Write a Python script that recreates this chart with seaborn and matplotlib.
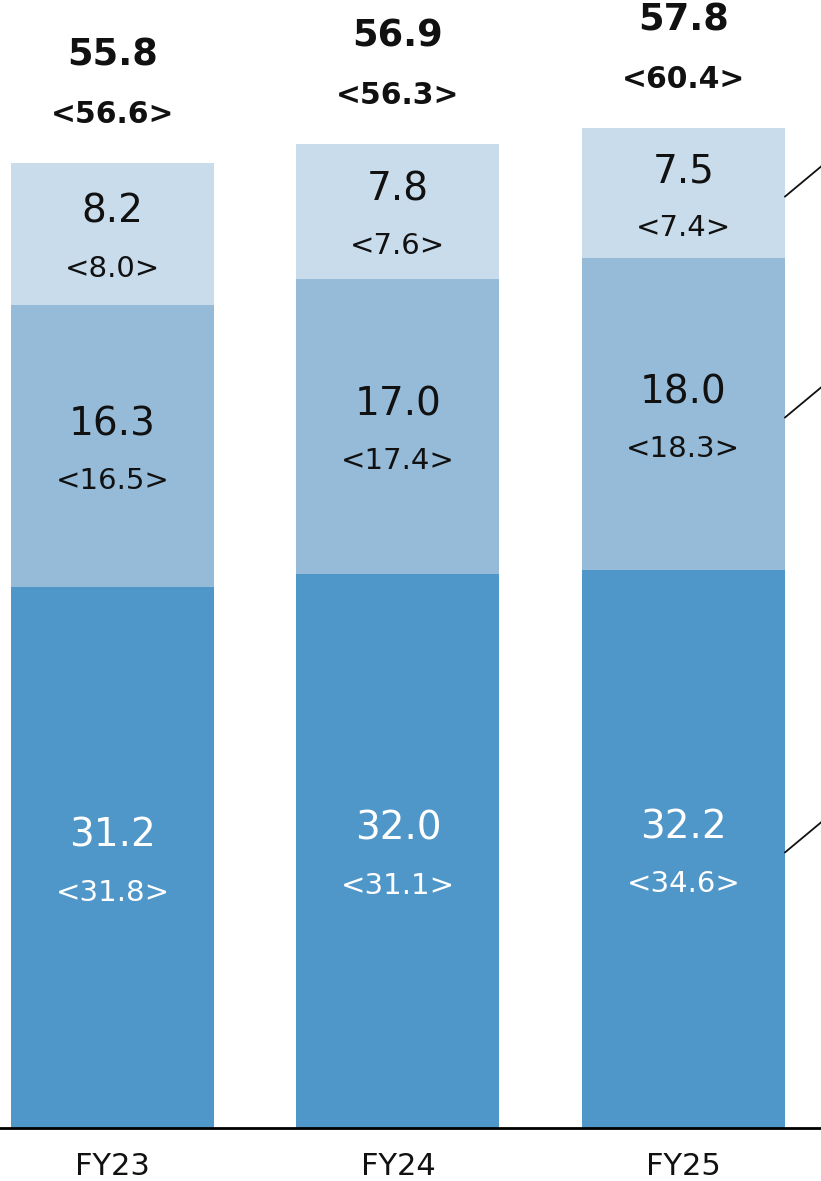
import matplotlib
matplotlib.use("Agg")
import matplotlib.pyplot as plt
import seaborn as sns
import pandas as pd

# Fiscal years and segment values (actual / <plan>)
years = ["FY23", "FY24", "FY25"]
seg_bottom = [31.2, 32.0, 32.2]
seg_middle = [16.3, 17.0, 18.0]
seg_top = [8.2, 7.8, 7.5]
plan_bottom = [31.8, 31.1, 34.6]
plan_middle = [16.5, 17.4, 18.3]
plan_top = [8.0, 7.6, 7.4]
totals = [55.8, 56.9, 57.8]
plan_totals = [56.6, 56.3, 60.4]

c_bottom = "#4F96C9"
c_middle = "#95BBD9"
c_top = "#C8DCEC"

sns.set_theme(style="white")
plt.rcParams["font.family"] = ["DejaVu Sans"]

fig = plt.figure(figsize=(8.21, 11.81), dpi=100)
ax = fig.add_axes([0, 1 - 1128 / 1181, 1, 1128 / 1181])

cum_mid = [b + m for b, m in zip(seg_bottom, seg_middle)]
cum_top = [c + t for c, t in zip(cum_mid, seg_top)]
df = pd.DataFrame({"year": years, "bottom": seg_bottom, "mid": cum_mid, "top": cum_top})

bar_w = 0.711
# stacked bars drawn as overlaid cumulative heights
for col, color in [("top", c_top), ("mid", c_middle), ("bottom", c_bottom)]:
    sns.barplot(data=df, x="year", y=col, color=color, width=bar_w,
                saturation=1, ax=ax, linewidth=0, edgecolor="none")

ax.set_xlim(-0.394, 2.482)
ax.set_ylim(0, 65.1)
ax.set_yticks([])
ax.set_xlabel("")
ax.set_ylabel("")
for s in ["top", "left", "right"]:
    ax.spines[s].set_visible(False)
ax.spines["bottom"].set_color("black")
ax.spines["bottom"].set_linewidth(2.0)
ax.tick_params(axis="x", length=0, labelsize=22, pad=17, colors="#111111")

px = 0.72  # points per pixel at 100 dpi

segments = [
    (seg_bottom, plan_bottom, [0] * 3, "white"),
    (seg_middle, plan_middle, seg_bottom, "#111111"),
    (seg_top, plan_top, cum_mid, "#111111"),
]
for vals, plans, bases, tc in segments:
    for i, (v, p, b) in enumerate(zip(vals, plans, bases)):
        mid = b + v / 2
        ax.annotate(f"{v:.1f}", (i, mid), xytext=(0, 22 * px), textcoords="offset points",
                    ha="center", va="center", fontsize=28, color=tc)
        ax.annotate(f"<{p:.1f}>", (i, mid), xytext=(0, -35 * px), textcoords="offset points",
                    ha="center", va="center", fontsize=21, color=tc)

for i, (t, p) in enumerate(zip(totals, plan_totals)):
    ax.annotate(f"{t:.1f}", (i, t), xytext=(0, 106 * px), textcoords="offset points",
                ha="center", va="center", fontsize=26.5, fontweight="bold", color="#111111")
    ax.annotate(f"<{p:.1f}>", (i, t), xytext=(0, 47 * px), textcoords="offset points",
                ha="center", va="center", fontsize=21.5, fontweight="bold", color="#111111")

# leader lines from the last bar toward the segment legend
last = len(years) - 1
x_edge = last + bar_w / 2
for b, v in [(0, seg_bottom[last]), (seg_bottom[last], seg_middle[last]), (cum_mid[last], seg_top[last])]:
    y0 = b + v / 2 - 0.2
    ax.annotate("", xy=(x_edge, y0), xytext=(60 * px, 50 * px), textcoords="offset points",
                arrowprops=dict(arrowstyle="-", color="#111111", lw=1.3,
                                shrinkA=0, shrinkB=0), annotation_clip=False)

fig.savefig("out.png", dpi=100)
